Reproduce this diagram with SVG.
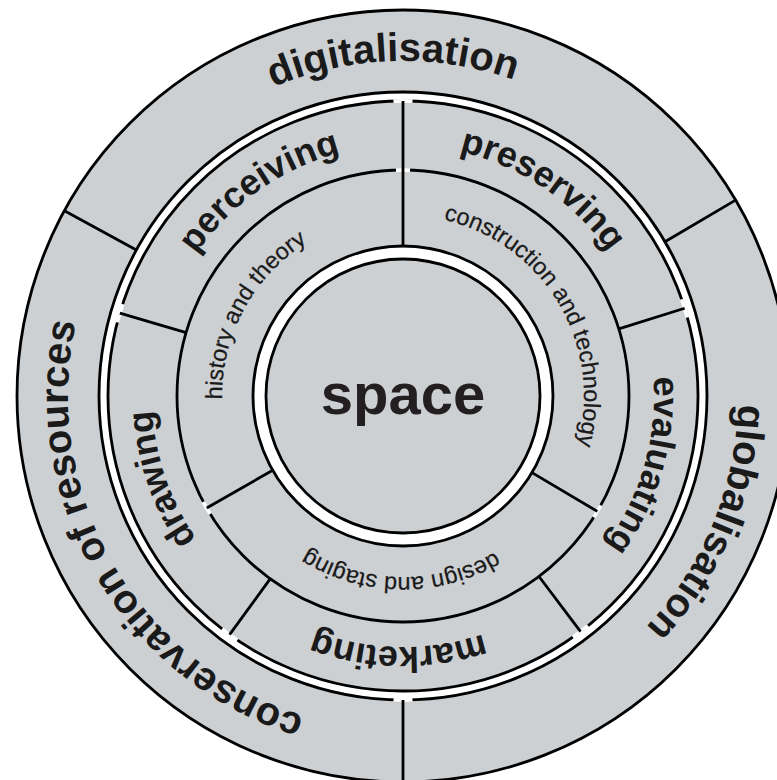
<svg xmlns="http://www.w3.org/2000/svg" width="777" height="780" viewBox="0 0 777 780">
<style>
.ln{fill:none;stroke:#000;stroke-width:2.8}
.gap{fill:none;stroke:#fff;stroke-width:3.8}
.t1{font-family:"Liberation Sans",Arial,sans-serif;font-weight:bold;font-size:40px;fill:#1a1a1a}
.t2{font-family:"Liberation Sans",Arial,sans-serif;font-weight:bold;font-size:36px;fill:#1a1a1a}
.t3{font-family:"Liberation Sans",Arial,sans-serif;font-weight:normal;font-size:23.5px;fill:#1a1a1a;stroke:#1a1a1a;stroke-width:0.25}
.t0{font-family:"Liberation Sans",Arial,sans-serif;font-weight:bold;font-size:58px;fill:#231f20}
</style>
<defs>
<path id="p1" d="M 344.83 725.91 A 335 335 0 1 1 461.17 725.91"/>
<path id="p2" d="M 359.41 643.19 A 251 251 0 1 1 446.59 643.19"/>
<path id="p3" d="M 371.57 574.26 A 181 181 0 1 1 434.43 574.26"/>
<path id="g295" d="M 393.5 101.15 A 295 295 0 0 1 412.5 101.15"/>
<path id="g226" d="M 396 170.11 A 226 226 0 0 1 410 170.11"/>
<path id="g304" d="M 393.5 92.15 A 304 304 0 0 1 412.5 92.15"/>
</defs>
<rect width="777" height="780" fill="#fff"/>
<g id="rings">
<circle cx="403" cy="396" r="386" fill="#cdd0d3" stroke="#000" stroke-width="2.8"/>
<circle cx="403" cy="396" r="299.5" fill="none" stroke="#fff" stroke-width="6.5"/>
<circle class="ln" cx="403" cy="396" r="304"/>
<circle class="ln" cx="403" cy="396" r="295"/>
<circle class="ln" cx="403" cy="396" r="226"/>
<circle cx="403" cy="396" r="143.5" fill="none" stroke="#fff" stroke-width="10.5"/>
<circle class="ln" cx="403" cy="396" r="150"/>
<circle class="ln" cx="403" cy="396" r="137"/>
</g>
<g id="gaps">
<use href="#g295" class="gap"/>
<use href="#g295" class="gap" transform="rotate(72.7 403 396)"/>
<use href="#g295" class="gap" transform="rotate(143 403 396)"/>
<use href="#g295" class="gap" transform="rotate(216 403 396)"/>
<use href="#g295" class="gap" transform="rotate(286.3 403 396)"/>
<use href="#g226" class="gap"/>
<use href="#g226" class="gap" transform="rotate(120.7 403 396)"/>
<use href="#g226" class="gap" transform="rotate(240.3 403 396)"/>
<use href="#g304" class="gap" transform="rotate(180 403 396)"/>
</g>
<g id="dividers" class="ln">
<line x1="136.35" y1="250.04" x2="64.42" y2="210.67"/>
<line x1="664.94" y1="241.71" x2="735.59" y2="200.09"/>
<line x1="403" y1="700" x2="403" y2="790"/>
<line x1="403" y1="170" x2="403" y2="101"/>
<line x1="618.78" y1="328.79" x2="684.65" y2="308.28"/>
<line x1="539.01" y1="576.49" x2="580.54" y2="631.60"/>
<line x1="270.16" y1="578.84" x2="229.60" y2="634.66"/>
<line x1="186.08" y1="332.57" x2="119.86" y2="313.20"/>
<line x1="403" y1="246" x2="403" y2="170"/>
<line x1="531.98" y1="472.58" x2="597.33" y2="511.38"/>
<line x1="272.71" y1="470.31" x2="206.69" y2="507.96"/>
</g>
<g id="digitalisation"><text class="t1" transform="rotate(-1.7 403 396)"><textPath href="#p1" startOffset="50%" text-anchor="middle">digitalisation</textPath></text></g>
<g id="globalisation"><text class="t1" transform="rotate(112.5 403 396)"><textPath href="#p1" startOffset="50%" text-anchor="middle">globalisation</textPath></text></g>
<g id="conservation"><text class="t1" transform="rotate(239.9 403 396)"><textPath href="#p1" startOffset="50%" text-anchor="middle">conservation of resources</textPath></text></g>
<g id="perceiving"><text class="t2" transform="rotate(-35 403 396)"><textPath href="#p2" startOffset="50%" text-anchor="middle">perceiving</textPath></text></g>
<g id="preserving"><text class="t2" transform="rotate(34 403 396)"><textPath href="#p2" startOffset="50%" text-anchor="middle">preserving</textPath></text></g>
<g id="evaluating"><text class="t2" transform="rotate(106 403 396)"><textPath href="#p2" startOffset="50%" text-anchor="middle">evaluating</textPath></text></g>
<g id="marketing"><text class="t2" transform="rotate(181 403 396)"><textPath href="#p2" startOffset="50%" text-anchor="middle">marketing</textPath></text></g>
<g id="drawing"><text class="t2" transform="rotate(251 403 396)"><textPath href="#p2" startOffset="50%" text-anchor="middle">drawing</textPath></text></g>
<g id="history"><text class="t3" transform="rotate(298.5 403 396)"><textPath href="#p3" startOffset="50%" text-anchor="middle">history and theory</textPath></text></g>
<g id="construction"><text class="t3" transform="rotate(59.3 403 396)"><textPath href="#p3" startOffset="50%" text-anchor="middle">construction and technology</textPath></text></g>
<g id="design"><text class="t3" transform="rotate(180.7 403 396)"><textPath href="#p3" startOffset="50%" text-anchor="middle">design and staging</textPath></text></g>
<g id="space"><text class="t0" x="403" y="414" text-anchor="middle">space</text></g>
</svg>
